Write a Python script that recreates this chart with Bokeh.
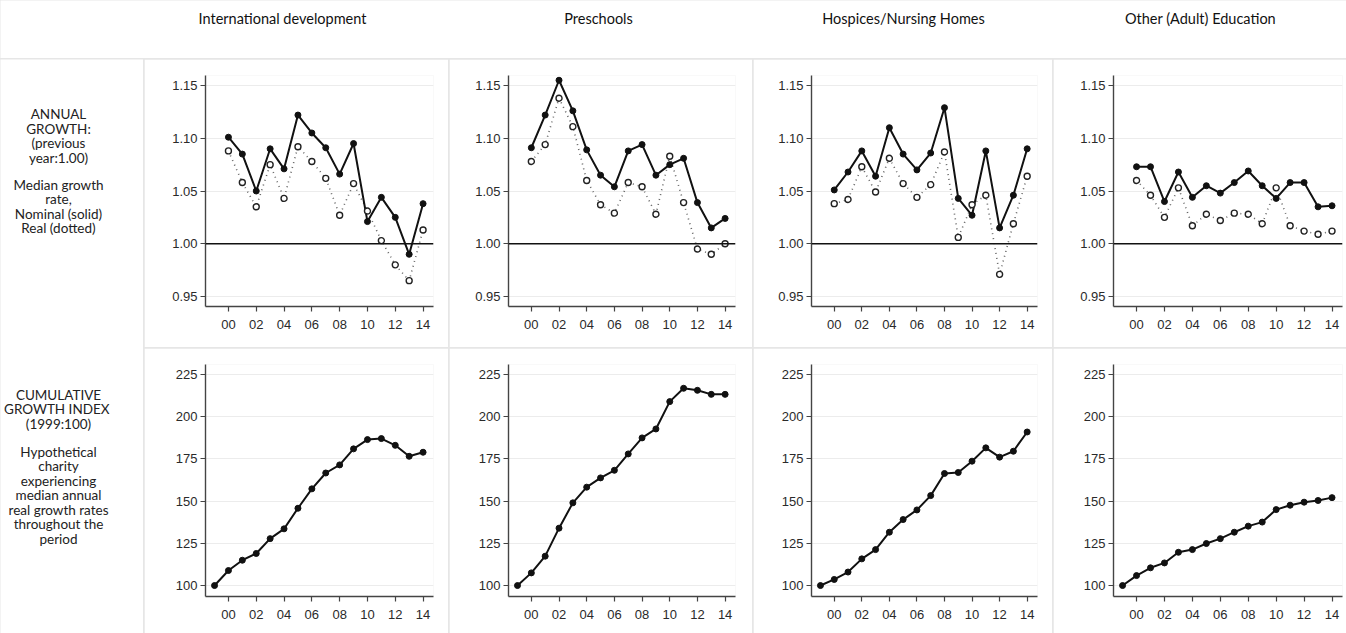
from bokeh.plotting import figure
from bokeh.layouts import row, column
from bokeh.models import Range1d, Span, FixedTicker, PrintfTickFormatter
from bokeh.core.properties import value
from bokeh.embed import file_html
from bokeh.resources import INLINE

# ---------------- data ----------------
categories = ["International development", "Preschools",
              "Hospices/Nursing Homes", "Other (Adult) Education"]

years_annual = [2000, 2001, 2002, 2003, 2004, 2005, 2006, 2007,
                2008, 2009, 2010, 2011, 2012, 2013, 2014]
years_cum = [1999, 2000, 2001, 2002, 2003, 2004, 2005, 2006, 2007,
             2008, 2009, 2010, 2011, 2012, 2013, 2014]

nominal_intl = [1.101, 1.085, 1.050, 1.090, 1.071, 1.122, 1.105, 1.091,
                1.066, 1.095, 1.021, 1.044, 1.025, 0.990, 1.038]
real_intl = [1.088, 1.058, 1.035, 1.075, 1.043, 1.092, 1.078, 1.062,
             1.027, 1.057, 1.031, 1.003, 0.980, 0.965, 1.013]

nominal_pre = [1.091, 1.122, 1.155, 1.126, 1.089, 1.065, 1.054, 1.088,
               1.094, 1.065, 1.075, 1.081, 1.039, 1.015, 1.024]
real_pre = [1.078, 1.094, 1.138, 1.111, 1.060, 1.037, 1.029, 1.058,
            1.054, 1.028, 1.083, 1.039, 0.995, 0.990, 1.000]

nominal_hosp = [1.051, 1.068, 1.088, 1.064, 1.110, 1.085, 1.070, 1.086,
                1.129, 1.043, 1.027, 1.088, 1.015, 1.046, 1.090]
real_hosp = [1.038, 1.042, 1.073, 1.049, 1.081, 1.057, 1.044, 1.056,
             1.087, 1.006, 1.037, 1.046, 0.971, 1.019, 1.064]

nominal_adult = [1.073, 1.073, 1.040, 1.068, 1.044, 1.055, 1.048, 1.058,
                 1.069, 1.055, 1.043, 1.058, 1.058, 1.035, 1.036]
real_adult = [1.060, 1.046, 1.025, 1.053, 1.017, 1.028, 1.022, 1.029,
              1.028, 1.019, 1.053, 1.017, 1.012, 1.009, 1.012]

cum_intl = [100, 108.9, 115.0, 119.0, 127.8, 133.6, 145.8, 157.3, 166.7,
            171.5, 181.0, 186.5, 187.1, 183.1, 176.6, 179.0]
cum_pre = [100, 107.5, 117.4, 134.0, 149.0, 158.3, 163.8, 168.3, 178.0,
           187.5, 192.8, 209.0, 216.9, 215.7, 213.3, 213.3]
cum_hosp = [100, 103.6, 108.0, 115.8, 121.3, 131.6, 139.1, 144.8, 153.3,
            166.4, 167.0, 173.7, 181.6, 176.1, 179.6, 191.0]
cum_adult = [100, 105.9, 110.5, 113.4, 119.7, 121.3, 124.9, 127.8, 131.6,
             135.2, 137.6, 145.0, 147.6, 149.4, 150.4, 152.1]

x_ticks = [2000, 2002, 2004, 2006, 2008, 2010, 2012, 2014]
x_tick_labels = ["00", "02", "04", "06", "08", "10", "12", "14"]
y_ticks_growth = [0.95, 1.00, 1.05, 1.10, 1.15]
y_ticks_index = [100, 125, 150, 175, 200, 225]

row_label_growth = ["ANNUAL", "GROWTH:", "(previous", "year:1.00)",
                    "Median growth", "rate,", "Nominal (solid)", "Real (dotted)"]
row_label_index = ["CUMULATIVE", "GROWTH  INDEX", "(1999:100)",
                   "Hypothetical", "charity", "experiencing", "median annual",
                   "real growth rates", "throughout the", "period"]

nominal_series = [nominal_intl, nominal_pre, nominal_hosp, nominal_adult]
real_series = [real_intl, real_pre, real_hosp, real_adult]
cum_series = [cum_intl, cum_pre, cum_hosp, cum_adult]

# ---------------- layout / style ----------------
TOTAL_W = 1346
TITLE_H = 58
LABEL_W = 143
PANEL_W = [304, 303, 299, 293]
BORDER_L = [61, 59, 58, 60]
BORDER_R = [15, 17, 15, 4]
TOP_H, BOT_H = 288, 285
SEP = "#e6e6e6"
TICK_FONT = "Liberation Sans"
TEXT_FONT = "Lato"


def style_axes(p, yticks, yfmt=None):
    p.xaxis.ticker = FixedTicker(ticks=x_ticks)
    p.xaxis.major_label_overrides = {t: l for t, l in zip(x_ticks, x_tick_labels)}
    p.yaxis.ticker = FixedTicker(ticks=yticks)
    if yfmt:
        p.yaxis.formatter = PrintfTickFormatter(format=yfmt)
    for ax in (p.xaxis, p.yaxis):
        ax.axis_line_color = "#444444"
        ax.axis_line_width = 1.4
        ax.major_tick_line_color = "#444444"
        ax.major_tick_line_width = 1.2
        ax.major_tick_in = 0
        ax.major_tick_out = 5
        ax.minor_tick_line_color = None
        ax.major_label_text_font = TICK_FONT
        ax.major_label_text_font_size = "13px"
        ax.major_label_text_color = "#2a2a2a"
    p.xaxis.major_label_standoff = 8
    p.yaxis.major_label_standoff = 3
    p.xgrid.grid_line_color = None
    p.ygrid.grid_line_color = "#ececec"
    p.ygrid.grid_line_width = 1
    p.outline_line_color = None
    p.background_fill_color = "white"
    p.border_fill_color = "white"


tops, bots = [], []
for i in range(4):
    w = PANEL_W[i]
    pt = figure(width=w, height=TOP_H, toolbar_location=None, output_backend="svg",
                x_range=Range1d(1998.35, 2014.75), y_range=Range1d(0.9405, 1.1595),
                min_border_left=BORDER_L[i], min_border_right=BORDER_R[i],
                min_border_top=16, min_border_bottom=41)
    style_axes(pt, y_ticks_growth, "%.2f")
    pt.add_layout(Span(location=1.0, dimension="width", line_color="#111111",
                       line_width=1.6))
    pt.line(years_annual, real_series[i], line_color="#666666", line_width=1.6,
            line_dash="1 4")
    pt.line(years_annual, nominal_series[i], line_color="#111111", line_width=2)
    pt.scatter(years_annual, real_series[i], marker="circle", size=6,
               fill_color="white", line_color="#222222", line_width=1.4)
    pt.scatter(years_annual, nominal_series[i], marker="circle", size=6,
               fill_color="#111111", line_color="#111111")
    tops.append(pt)

    pb = figure(width=w, height=BOT_H, toolbar_location=None, output_backend="svg",
                x_range=Range1d(1998.35, 2014.75), y_range=Range1d(93.5, 231),
                min_border_left=BORDER_L[i], min_border_right=BORDER_R[i],
                min_border_top=16, min_border_bottom=37)
    style_axes(pb, y_ticks_index, "%d")
    pb.line(years_cum, cum_series[i], line_color="#111111", line_width=2)
    pb.scatter(years_cum, cum_series[i], marker="circle", size=6,
               fill_color="#111111", line_color="#111111")
    bots.append(pb)

# title strip
title_x = [282, 598, 903, 1200]
tf = figure(width=TOTAL_W, height=TITLE_H, toolbar_location=None, output_backend="svg",
            x_range=Range1d(0, TOTAL_W), y_range=Range1d(TITLE_H, 0), min_border=0)
tf.axis.visible = False
tf.grid.visible = False
tf.outline_line_color = None
tf.text(x=title_x, y=[18] * 4, text=categories, text_align="center",
        text_baseline="middle", text_font=value(TEXT_FONT),
        text_font_size="14.5px", text_color="#111111")

# row label column
LAB_H = TOP_H + 1 + BOT_H
lf = figure(width=LABEL_W, height=LAB_H, toolbar_location=None, output_backend="svg",
            x_range=Range1d(0, LABEL_W), y_range=Range1d(LAB_H, 0), min_border=0)
lf.axis.visible = False
lf.grid.visible = False
lf.outline_line_color = None
lab_y_top = [54, 69, 83, 98, 125, 139, 154, 168]
lab_y_bot = [335, 349.5, 364, 392, 406.5, 421, 435.5, 450, 464.5, 479]
lf.text(x=[58] * len(row_label_growth), y=lab_y_top, text=row_label_growth,
        text_align="center", text_baseline="middle", text_font=value(TEXT_FONT),
        text_font_size="13.5px", text_color="#222222")
lf.text(x=[58] * len(row_label_index), y=lab_y_bot, text=row_label_index,
        text_align="center", text_baseline="middle", text_font=value(TEXT_FONT),
        text_font_size="13.5px", text_color="#222222")

cols = [column(tops[i], bots[i], spacing=1) for i in range(4)]
grid_row = row(lf, *cols, spacing=1, styles={"background-color": SEP})
layout = column(tf, grid_row, spacing=1, styles={"background-color": SEP})

open("out.html", "w").write(file_html(layout, INLINE))
